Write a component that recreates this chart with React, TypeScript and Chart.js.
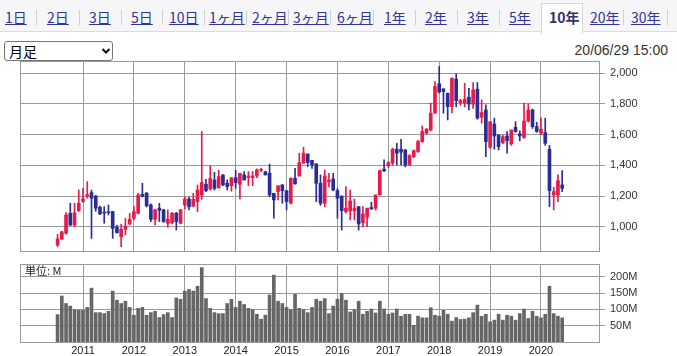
import React, { useEffect, useRef } from 'react';
import { Chart, registerables } from 'chart.js';

Chart.register(...registerables);

// ---------- data ----------
const MONTHS: string[] = [
  '2010/07', '2010/08', '2010/09', '2010/10', '2010/11', '2010/12',
  '2011/01', '2011/02', '2011/03', '2011/04', '2011/05', '2011/06', '2011/07', '2011/08', '2011/09', '2011/10', '2011/11', '2011/12',
  '2012/01', '2012/02', '2012/03', '2012/04', '2012/05', '2012/06', '2012/07', '2012/08', '2012/09', '2012/10', '2012/11', '2012/12',
  '2013/01', '2013/02', '2013/03', '2013/04', '2013/05', '2013/06', '2013/07', '2013/08', '2013/09', '2013/10', '2013/11', '2013/12',
  '2014/01', '2014/02', '2014/03', '2014/04', '2014/05', '2014/06', '2014/07', '2014/08', '2014/09', '2014/10', '2014/11', '2014/12',
  '2015/01', '2015/02', '2015/03', '2015/04', '2015/05', '2015/06', '2015/07', '2015/08', '2015/09', '2015/10', '2015/11', '2015/12',
  '2016/01', '2016/02', '2016/03', '2016/04', '2016/05', '2016/06', '2016/07', '2016/08', '2016/09', '2016/10', '2016/11', '2016/12',
  '2017/01', '2017/02', '2017/03', '2017/04', '2017/05', '2017/06', '2017/07', '2017/08', '2017/09', '2017/10', '2017/11', '2017/12',
  '2018/01', '2018/02', '2018/03', '2018/04', '2018/05', '2018/06', '2018/07', '2018/08', '2018/09', '2018/10', '2018/11', '2018/12',
  '2019/01', '2019/02', '2019/03', '2019/04', '2019/05', '2019/06', '2019/07', '2019/08', '2019/09', '2019/10', '2019/11', '2019/12',
  '2020/01', '2020/02', '2020/03', '2020/04', '2020/05', '2020/06',
];

const OPEN: number[] = [
  883, 922, 959, 1089, 1013, 1106,
  1165, 1200, 1223, 1201, 1128, 1096, 1098, 1100, 998, 937, 985, 1020,
  1057, 1089, 1212, 1219, 1143, 1050, 1122, 1111, 1024, 1028, 1089, 1024,
  1143, 1182, 1137, 1165, 1208, 1278, 1247, 1305, 1255, 1338, 1284, 1268,
  1320, 1278, 1338, 1322, 1320, 1331, 1368, 1359, 1349, 1219, 1230, 1273,
  1236, 1154, 1316, 1331, 1414, 1474, 1433, 1410, 1284, 1154, 1294, 1312,
  1236, 1201, 1100, 1104, 1106, 1132, 1028, 1063, 1126, 1122, 1208, 1375,
  1398, 1414, 1505, 1505, 1500, 1403, 1457, 1490, 1555, 1609, 1630, 1739,
  1930, 1897, 1869, 1782, 1960, 1808, 1804, 1843, 1798, 1895, 1713, 1760,
  1518, 1669, 1598, 1548, 1591, 1539, 1648, 1605, 1582, 1688, 1760, 1652,
  1609, 1613, 1505, 1208, 1208, 1273,
];

const HIGH: number[] = [
  952, 972, 1093, 1154, 1154, 1240,
  1251, 1295, 1240, 1205, 1135, 1132, 1143, 1102, 1011, 1018, 1057, 1089,
  1132, 1219, 1284, 1225, 1150, 1117, 1154, 1115, 1111, 1095, 1095, 1115,
  1195, 1195, 1219, 1273, 1620, 1310, 1398, 1355, 1370, 1340, 1306, 1320,
  1370, 1349, 1360, 1360, 1360, 1377, 1383, 1360, 1408, 1219, 1268, 1276,
  1236, 1320, 1381, 1479, 1518, 1474, 1433, 1410, 1338, 1370, 1348, 1348,
  1250, 1201, 1262, 1240, 1180, 1132, 1132, 1122, 1160, 1208, 1370, 1436,
  1425, 1512, 1544, 1570, 1505, 1470, 1500, 1562, 1656, 1640, 1804, 1945,
  2042, 1897, 1869, 1967, 1995, 1830, 1934, 1900, 1938, 1938, 1826, 1793,
  1684, 1707, 1598, 1595, 1620, 1630, 1684, 1625, 1804, 1800, 1765, 1680,
  1707, 1707, 1530, 1258, 1338, 1366,
];

const LOW: number[] = [
  872, 918, 954, 1010, 1002, 1100,
  1160, 1187, 926, 1102, 1080, 1024, 1078, 926, 960, 872, 948, 1013,
  1046, 1085, 1195, 1130, 1035, 1013, 1035, 1030, 998, 1020, 980, 1020,
  1117, 1111, 1130, 1100, 1180, 1230, 1240, 1240, 1251, 1268, 1240, 1232,
  1251, 1182, 1305, 1268, 1268, 1320, 1360, 1338, 1197, 1057, 1176, 1154,
  1111, 1150, 1278, 1331, 1414, 1392, 1380, 1165, 1140, 1132, 1262, 1235,
  1057, 980, 1090, 1046, 1046, 980, 1000, 1002, 1115, 1110, 1208, 1360,
  1385, 1400, 1403, 1403, 1390, 1400, 1450, 1485, 1550, 1605, 1625, 1739,
  1870, 1739, 1695, 1741, 1780, 1790, 1780, 1760, 1770, 1700, 1674, 1457,
  1510, 1505, 1500, 1540, 1479, 1530, 1615, 1560, 1575, 1680, 1640, 1615,
  1600, 1530, 1132, 1111, 1165, 1230,
];

const CLOSE: number[] = [
  922, 969, 1078, 1013, 1093, 1154,
  1182, 1210, 1187, 1122, 1085, 1090, 1093, 991, 963, 985, 1006, 1050,
  1100, 1208, 1200, 1137, 1050, 1111, 1108, 1035, 1050, 1089, 1035, 1111,
  1182, 1132, 1180, 1240, 1288, 1236, 1316, 1251, 1327, 1273, 1262, 1320,
  1288, 1349, 1305, 1330, 1331, 1370, 1372, 1338, 1208, 1176, 1268, 1236,
  1165, 1316, 1280, 1418, 1479, 1418, 1403, 1284, 1154, 1331, 1305, 1240,
  1187, 1106, 1122, 1169, 1122, 1020, 1085, 1122, 1117, 1208, 1366, 1366,
  1418, 1505, 1479, 1486, 1403, 1463, 1496, 1555, 1620, 1635, 1739, 1912,
  1876, 1880, 1782, 1967, 1821, 1821, 1830, 1798, 1890, 1707, 1743, 1555,
  1684, 1591, 1522, 1587, 1561, 1630, 1620, 1591, 1688, 1760, 1652, 1620,
  1635, 1544, 1236, 1230, 1301, 1251,
];

// volume in millions of shares
const VOLUME: number[] = [
  84, 141, 118, 110, 99, 97,
  97, 106, 165, 90, 90, 87, 94, 156, 128, 118, 125, 106,
  82, 103, 106, 82, 90, 94, 75, 84, 90, 75, 135, 131,
  156, 161, 156, 171, 228, 133, 103, 90, 87, 87, 118, 131,
  106, 125, 115, 103, 99, 85, 70, 82, 144, 205, 125, 118,
  106, 99, 146, 103, 99, 90, 106, 131, 125, 133, 87, 110,
  131, 149, 128, 92, 99, 125, 85, 94, 101, 89, 125, 101,
  85, 89, 101, 79, 85, 85, 51, 79, 74, 74, 105, 82,
  79, 97, 85, 64, 75, 69, 70, 74, 90, 113, 79, 85,
  62, 67, 85, 67, 82, 79, 67, 87, 101, 72, 94, 79,
  74, 85, 171, 87, 79, 74,
];

const YEAR_TICKS: string[] = ['2011', '2012', '2013', '2014', '2015', '2016', '2017', '2018', '2019', '2020'];
const PRICE_TICKS: number[] = [1000, 1200, 1400, 1600, 1800, 2000];
const VOLUME_TICKS: number[] = [50, 100, 150, 200];

const TABS: string[] = ['1日', '2日', '3日', '5日', '10日', '1ヶ月', '2ヶ月', '3ヶ月', '6ヶ月', '1年', '2年', '3年', '5年', '10年', '20年', '30年'];
const SELECTED_TAB = '10年';
const INTERVAL_LABEL = '月足';
const TIMESTAMP = '20/06/29 15:00';
const VOLUME_UNIT = '単位: M';

// ---------- styling / layout ----------
const UP = '#e8194b';
const DOWN = '#2c2c96';
const GRID = '#9a9a9a';
const VOL_BAR = '#666666';
const TAB_LEFT = [5, 47, 89, 131, 169, 209, 252, 293, 337, 384, 425, 467, 509, 549, 590, 631];
const SEP_X = [36, 79, 121, 162, 204, 246, 288, 330, 373, 415, 457, 499, 623, 667];

const X_MIN = -2.86;
const X_MAX = 133.68;

const monthIndex = (s: string) => {
  const [y, m] = s.split('/').map(Number);
  return (y - 2010) * 12 + (m - 1);
};

const framePlugin = {
  id: 'frame',
  beforeDatasetsDraw(chart: any) {
    const { ctx, chartArea: a } = chart;
    ctx.save();
    ctx.strokeStyle = GRID;
    ctx.lineWidth = 1;
    const l = Math.round(a.left) + 0.5;
    const t = Math.round(a.top) + 0.5;
    const r = Math.round(a.right) + 0.5;
    const b = Math.round(a.bottom) + 0.5;
    ctx.strokeRect(l, t, r - l, b - t);
    ctx.restore();
  },
};

const xScale = (showLabels: boolean, height: number) => ({
  type: 'linear',
  min: X_MIN,
  max: X_MAX,
  offset: false,
  grid: { offset: false, color: GRID, lineWidth: 1, drawTicks: false },
  border: { display: false },
  ticks: {
    display: showLabels,
    padding: 2,
    color: '#222',
    font: { size: 11, family: 'Liberation Sans' },
    maxRotation: 0,
    autoSkip: false,
    callback: (_v: any, i: number) => YEAR_TICKS[i],
  },
  afterBuildTicks: (s: any) => {
    s.ticks = YEAR_TICKS.map((y) => ({ value: monthIndex(y + '/01') }));
  },
  afterFit: (s: any) => {
    s.height = height;
  },
});

function PriceChart() {
  const ref = useRef<HTMLCanvasElement>(null);
  useEffect(() => {
    const colors = OPEN.map((o, i) => (CLOSE[i] >= o ? UP : DOWN));
    const chart = new Chart(ref.current as HTMLCanvasElement, {
      type: 'bar',
      data: {
        datasets: [
          {
            label: 'body',
            data: MONTHS.map((mo, i) => ({ x: monthIndex(mo), y: [OPEN[i], CLOSE[i]] })) as any,
            backgroundColor: colors,
            barThickness: 3,
            minBarLength: 1,
            grouped: false,
          },
          {
            label: 'wick',
            data: MONTHS.map((mo, i) => ({ x: monthIndex(mo), y: [LOW[i], HIGH[i]] })) as any,
            backgroundColor: colors,
            barThickness: 1,
            grouped: false,
          },
        ],
      },
      options: {
        responsive: false,
        animation: false,
        devicePixelRatio: 1,
        layout: { padding: { left: 20, top: 14, right: 0, bottom: 14 } },
        plugins: { legend: { display: false }, tooltip: { enabled: false } },
        scales: {
          x: xScale(false, 0) as any,
          y: {
            position: 'right',
            min: 844,
            max: 2078,
            grid: { color: GRID, lineWidth: 1, tickLength: 6 },
            border: { display: false },
            ticks: {
              padding: 5,
              color: '#333',
              font: { size: 11, family: 'Liberation Sans' },
              callback: (v: any) => Number(v).toLocaleString('en-US'),
            },
            afterBuildTicks: (s: any) => {
              s.ticks = PRICE_TICKS.map((v) => ({ value: v }));
            },
            afterFit: (s: any) => {
              s.width = 78;
            },
          },
        },
      },
      plugins: [framePlugin],
    });
    return () => chart.destroy();
  }, []);
  return (
    <canvas
      ref={ref}
      width={677}
      height={218}
      style={{ position: 'absolute', left: 0, top: 47, width: 677, height: 218 }}
    />
  );
}

function VolumeChart() {
  const ref = useRef<HTMLCanvasElement>(null);
  useEffect(() => {
    const chart = new Chart(ref.current as HTMLCanvasElement, {
      type: 'bar',
      data: {
        datasets: [
          {
            label: 'volume',
            data: MONTHS.map((mo, i) => ({ x: monthIndex(mo), y: VOLUME[i] })) as any,
            backgroundColor: VOL_BAR,
            barThickness: 3,
            grouped: false,
          },
        ],
      },
      options: {
        responsive: false,
        animation: false,
        devicePixelRatio: 1,
        layout: { padding: { left: 20, top: 14, right: 0, bottom: 0 } },
        plugins: { legend: { display: false }, tooltip: { enabled: false } },
        scales: {
          x: xScale(true, 14) as any,
          y: {
            position: 'right',
            min: 0,
            max: 239,
            grid: { color: GRID, lineWidth: 1, tickLength: 6 },
            border: { display: false },
            ticks: {
              padding: 5,
              color: '#333',
              font: { size: 11, family: 'Liberation Sans' },
              callback: (v: any) => v + 'M',
            },
            afterBuildTicks: (s: any) => {
              s.ticks = VOLUME_TICKS.map((v) => ({ value: v }));
            },
            afterFit: (s: any) => {
              s.width = 78;
            },
          },
        },
      },
      plugins: [framePlugin],
    });
    return () => chart.destroy();
  }, []);
  return (
    <canvas
      ref={ref}
      width={677}
      height={106}
      style={{ position: 'absolute', left: 0, top: 250, width: 677, height: 106 }}
    />
  );
}

export default function App() {
  return (
    <div
      style={{
        position: 'fixed',
        left: 0,
        top: 0,
        width: 677,
        height: 356,
        background: '#fff',
        overflow: 'hidden',
        fontFamily: '"Noto Sans CJK JP", "Noto Sans", sans-serif',
      }}
    >
      {/* tab bar */}
      <div
        style={{
          position: 'absolute',
          left: 0,
          top: 0,
          width: 677,
          height: 31,
          background: '#f6f6f8',
          borderBottom: '1px solid #dcdcdc',
        }}
      />
      <div
        style={{
          position: 'absolute',
          left: 541,
          top: 3,
          width: 40,
          height: 30,
          background: '#fff',
          border: '1px solid #d6d6d6',
          borderBottom: 'none',
        }}
      />
      {SEP_X.map((x, i) => (
        <div key={'s' + i} style={{ position: 'absolute', left: x, top: 10, width: 1, height: 15, background: '#d0d0d0' }} />
      ))}
      {TABS.map((t, i) => (
        <div
          key={t}
          style={{
            position: 'absolute',
            left: TAB_LEFT[i],
            top: 7,
            lineHeight: '20px',
            fontSize: 14,
            color: t === SELECTED_TAB ? '#333366' : '#333399',
            fontWeight: t === SELECTED_TAB ? 'bold' : 'normal',
            textDecoration: t === SELECTED_TAB ? 'none' : 'underline',
            whiteSpace: 'nowrap',
          }}
        >
          {t}
        </div>
      ))}

      {/* interval dropdown */}
      <div
        style={{
          position: 'absolute',
          left: 4,
          top: 41,
          width: 109,
          height: 20,
          boxSizing: 'border-box',
          border: '1px solid #767676',
          borderRadius: 3,
          background: '#fff',
        }}
      >
        <div
          style={{
            position: 'absolute',
            left: 4,
            top: 0,
            lineHeight: '18px',
            fontSize: 14,
            color: '#000',
            fontFamily: '"Noto Sans CJK JP", sans-serif',
          }}
        >
          {INTERVAL_LABEL}
        </div>
        <svg
          width={10}
          height={8}
          viewBox="0 0 10 8"
          style={{ position: 'absolute', left: 96, top: 5 }}
        >
          <polyline points="1.5,2 5,5.5 8.5,2" fill="none" stroke="#111" strokeWidth={2} />
        </svg>
      </div>

      {/* timestamp */}
      <div
        style={{
          position: 'absolute',
          right: 9,
          top: 41,
          lineHeight: '18px',
          fontSize: 14,
          color: '#333',
          fontFamily: '"Liberation Sans", sans-serif',
        }}
      >
        {TIMESTAMP}
      </div>

      <PriceChart />
      <VolumeChart />

      <div
        style={{
          position: 'absolute',
          left: 25,
          top: 264,
          lineHeight: '13px',
          fontSize: 11,
          color: '#222',
          fontFamily: '"Noto Sans CJK JP", sans-serif',
        }}
      >
        {VOLUME_UNIT}
      </div>
    </div>
  );
}
